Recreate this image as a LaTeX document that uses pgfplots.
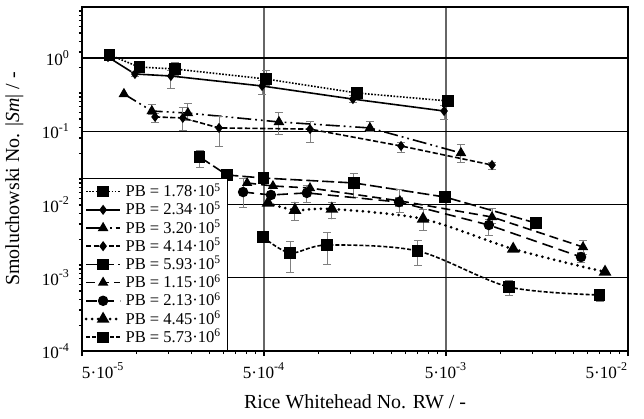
\documentclass[border=0pt]{standalone}
\usepackage{fontspec}
\setmainfont{Liberation Serif}
\usepackage{pgfplots}
\pgfplotsset{compat=1.18}
\usetikzlibrary{calc}

\pgfplotsset{
  ser/.style={black, line width=0.8bp, mark options={solid, fill=black}},
  errs/.style={error bars/y dir=both, error bars/y explicit,
    error bars/error bar style={gray, line width=0.5bp, solid},
    error bars/error mark options={gray, rotate=90, mark size=2bp, line width=0.5bp, solid}},
}

\begin{document}
\begin{tikzpicture}
\begin{axis}[
  scale only axis, width=273bp, height=172bp,
  xmode=log, ymode=log,
  xmin=5e-5, xmax=5e-2, ymin=1e-4, ymax=4.97,
  axis line style={line width=0.8bp},
  tick align=outside, xtick pos=bottom, ytick pos=left,
  major tick length=2.5bp, minor tick length=1.6bp,
  every tick/.style={black, line width=0.6bp},
  xtick={5e-5,5e-4,5e-3,5e-2},
  xticklabels={\makebox[0pt][l]{5·10\textsuperscript{-5}},5·10\textsuperscript{-4},5·10\textsuperscript{-3},\makebox[0pt][r]{5·10\textsuperscript{-2}}},
  minor xtick={1e-4,1.5e-4,2e-4,2.5e-4,3e-4,3.5e-4,4e-4,4.5e-4,1e-3,1.5e-3,2e-3,2.5e-3,3e-3,3.5e-3,4e-3,4.5e-3,1e-2,1.5e-2,2e-2,2.5e-2,3e-2,3.5e-2,4e-2,4.5e-2},
  ytick={1e-4,1e-3,1e-2,1e-1,1},
  yticklabels={10\textsuperscript{-4},10\textsuperscript{-3},10\textsuperscript{-2},10\textsuperscript{-1},10\textsuperscript{0}},
  major y tick style={draw=none},
  minor ytick={2.257e-4,3.631e-4,5.089e-4,6.616e-4,8.192e-4,9.817e-4,1.148e-3,1.318e-3,1.493e-3,3.369e-3,5.420e-3,7.598e-3,9.876e-3,1.223e-2,1.466e-2,1.715e-2,1.968e-2,2.228e-2,5.028e-2,8.091e-2,1.134e-1,1.474e-1,1.826e-1,2.188e-1,2.559e-1,2.938e-1,3.327e-1,7.506e-1,1.208,1.693,2.201,2.725,3.266,3.820,4.385},
  xmajorgrids, ymajorgrids,
  x grid style={gray!80!black, line width=0.7bp},
  y grid style={black, line width=0.6bp},
  tick label style={font=\fontsize{8.6}{10}\selectfont},
  xlabel={Rice Whitehead No. RW / -},
  ylabel={Smoluchowski No. |\textit{Sm}| / -},
  label style={font=\fontsize{10}{12}\selectfont},
  xlabel style={at={(axis description cs:0.5,-0.148)}, anchor=center},
  ylabel style={at={(axis description cs:-0.124,0.5)}, anchor=center},
  legend style={at={(rel axis cs:0,0)}, anchor=south west, draw=black, line width=0.6bp, fill=white,
    font=\fontsize{8.3}{9.5}\selectfont, inner xsep=1bp, inner ysep=0.5bp, row sep=-3bp},
  legend cell align=left,
]
\coordinate (ll) at (rel axis cs:0,0);
\coordinate (ur) at (rel axis cs:1,1);

\addplot[ser, errs, dash pattern=on 0.8bp off 0.8bp, mark=square*, mark size=2.4bp] coordinates {
  (7.1e-5,1.10) (1.03e-4,0.754) (1.62e-4,0.708) += (0,0.173) -= (0,0.122)
  (5.13e-4,0.517) += (0,0.169) -= (0,0.102) (1.62e-3,0.333) += (0,0.056) -= (0,0.039)
  (5.13e-3,0.259)};
\addlegendentry{PB = 1.78·10\textsuperscript{5}}

\addplot[ser, errs, mark=diamond*, mark size=1.9bp] coordinates {
  (6.95e-5,1.03) (9.77e-5,0.605) += (0,0.05) -= (0,0.04) (1.54e-4,0.568) += (0,0.10) -= (0,0.19)
  (4.88e-4,0.415) += (0,0.08) -= (0,0.10) (1.54e-3,0.275) += (0,0.03) -= (0,0.03)
  (4.88e-3,0.189) += (0,0.039) -= (0,0.042)};
\addlegendentry{PB = 2.34·10\textsuperscript{5}}

\addplot[ser, errs, dash pattern=on 7bp off 2bp on 0.9bp off 2bp on 0.9bp off 2bp, mark=triangle*, mark size=2.3bp] coordinates {
  (8.5e-5,0.323) (1.21e-4,0.189) += (0,0.046) -= (0,0.022) (1.91e-4,0.177) += (0,0.066) -= (0,0.035)
  (6.04e-4,0.134) += (0,0.049) -= (0,0.045) (1.91e-3,0.111) += (0,0.023) -= (0,0.013)
  (6.04e-3,0.0505) += (0,0.0165) -= (0,0.0136)};
\addlegendentry{PB = 3.20·10\textsuperscript{5}}

\addplot[ser, errs, dash pattern=on 2.6bp off 1.2bp, mark=diamond*, mark size=1.9bp] coordinates {
  (1.26e-4,0.157) += (0,0.02) -= (0,0.027) (1.79e-4,0.152) += (0,0.062) -= (0,0.048)
  (2.83e-4,0.111) += (0,0.05) -= (0,0.05) (8.95e-4,0.107) += (0,0.027) -= (0,0.036)
  (2.83e-3,0.063) += (0,0.008) -= (0,0.0125) (8.95e-3,0.0346) += (0,0.0034) -= (0,0.005)};
\addlegendentry{PB = 4.14·10\textsuperscript{5}}

\addplot[ser, errs, dash pattern=on 6bp off 2bp, mark=square*, mark size=2.4bp] coordinates {
  (2.22e-4,0.0444) += (0,0.011) -= (0,0.012) (3.13e-4,0.0253) (4.95e-4,0.0230)
  (1.56e-3,0.0197) += (0,0.0072) -= (0,0.0074) (4.94e-3,0.01265) += (0,0.002) -= (0,0.002)
  (1.56e-2,0.00558)};
\addlegendentry{PB = 5.93·10\textsuperscript{5}}

\addplot[ser, errs, dash pattern=on 4.5bp off 2.5bp, mark=triangle*, mark size=2.2bp] coordinates {
  (4.04e-4,0.0197) (5.6e-4,0.0179) (8.95e-4,0.0168)
  (2.79e-3,0.0112) += (0,0.0046) -= (0,0.0035) (8.95e-3,0.00675) += (0,0.002) -= (0,0.0012)
  (2.83e-2,0.00263) += (0,0.00055) -= (0,0.00058)};
\addlegendentry{PB = 1.15·10\textsuperscript{6}}

\addplot[ser, errs, dash pattern=on 5.5bp off 3bp, mark=*, mark size=2.2bp] coordinates {
  (3.84e-4,0.0148) += (0,0.0082) -= (0,0.0056) (5.46e-4,0.0135)
  (8.6e-4,0.0144) += (0,0.004) -= (0,0.0036) (2.76e-3,0.0108) += (0,0.0015) -= (0,0.0015)
  (8.6e-3,0.00525) += (0,0.0009) -= (0,0.0015) (2.76e-2,0.00192) += (0,0.00026) -= (0,0.00028)};
\addlegendentry{PB = 2.13·10\textsuperscript{6}}

\addplot[ser, errs, smooth, line width=1.5bp, line cap=round, dash pattern=on 0bp off 3bp, mark=triangle*, mark size=2.2bp] coordinates {
  (5.26e-4,0.0105) (7.4e-4,0.0084) += (0,0.0024) -= (0,0.0023)
  (1.18e-3,0.00868) += (0,0.0021) -= (0,0.0023) (3.74e-3,0.00634) += (0,0.0023) -= (0,0.0019)
  (1.17e-2,0.00247) (3.74e-2,0.0012)};
\addlegendentry{PB = 4.45·10\textsuperscript{6}}

\addplot[ser, errs, smooth, dash pattern=on 2bp off 1bp, mark=square*, mark size=2.4bp] coordinates {
  (4.94e-4,0.0036) (6.95e-4,0.00218) += (0,0.0009) -= (0,0.001)
  (1.11e-3,0.0028) += (0,0.0014) -= (0,0.0013) (3.5e-3,0.00232) += (0,0.00086) -= (0,0.00083)
  (1.11e-2,0.000749) += (0,0.00018) -= (0,0.00017) (3.5e-2,0.000582) += (0,0.00012) -= (0,0.000115)};
\addlegendentry{PB = 5.73·10\textsuperscript{6}}
\end{axis}
\pgfresetboundingbox
\path ($(ll)+(-41bp,-33.5bp)$) rectangle ($(ur)+(8bp,3.5bp)$);
\end{tikzpicture}
\end{document}
